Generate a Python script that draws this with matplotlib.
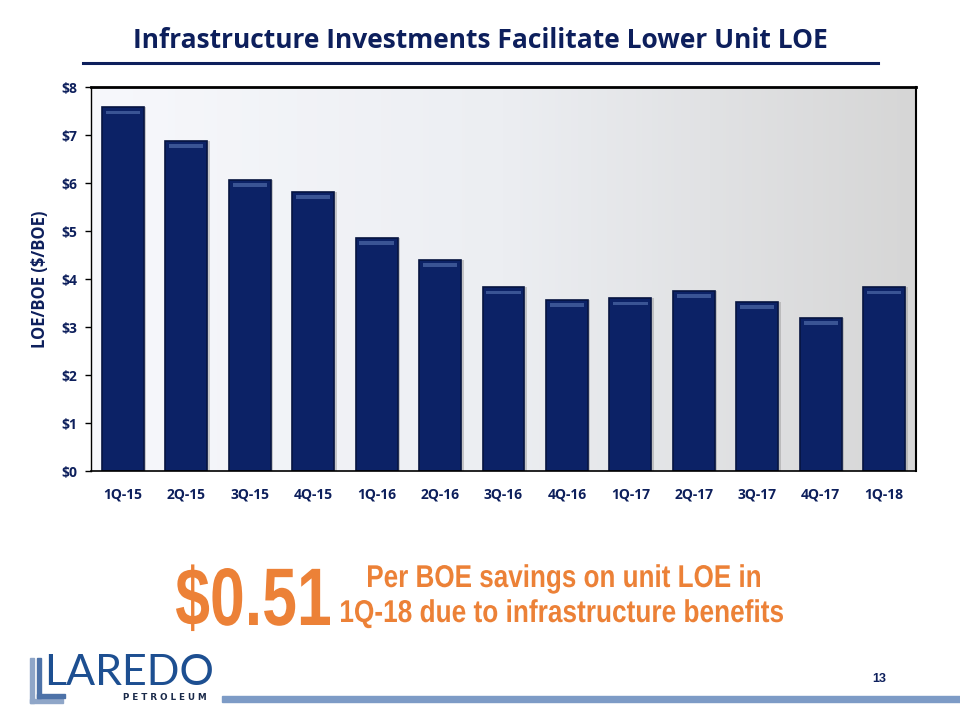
import numpy as np
import matplotlib
matplotlib.use("Agg")
import matplotlib.pyplot as plt
from matplotlib.patches import Rectangle, PathPatch
from matplotlib.textpath import TextPath
from matplotlib.font_manager import FontProperties
from matplotlib.transforms import Affine2D, IdentityTransform
from matplotlib.colors import LinearSegmentedColormap

quarters = ["1Q-15", "2Q-15", "3Q-15", "4Q-15", "1Q-16", "2Q-16", "3Q-16",
            "4Q-16", "1Q-17", "2Q-17", "3Q-17", "4Q-17", "1Q-18"]
loe = [7.58, 6.88, 6.06, 5.81, 4.86, 4.40, 3.83, 3.56, 3.60, 3.75, 3.52, 3.19, 3.83]
yticks = [0, 1, 2, 3, 4, 5, 6, 7, 8]
ytick_labels = ["$0", "$1", "$2", "$3", "$4", "$5", "$6", "$7", "$8"]

NAVY = "#0d1f5c"
BAR = "#0c2266"
ORANGE = "#ec8137"

W, H = 960, 720
fig = plt.figure(figsize=(9.6, 7.2), dpi=100)
fig.patch.set_facecolor("white")

ax = fig.add_axes([91/W, 1-471/H, 825/W, 384/H])
x = np.arange(len(quarters))
ax.set_xlim(-0.5, len(quarters)-0.5)
ax.set_ylim(0, 8)

grad = np.linspace(0, 1, 256).reshape(1, -1)
cmap = LinearSegmentedColormap.from_list("bg", ["#f7f8fc", "#eceef2", "#d6d6d6"])
ax.imshow(grad, extent=[-0.5, len(quarters)-0.5, 0, 8], aspect="auto",
          cmap=cmap, zorder=0)

ax.bar(x + 0.04, loe, width=0.66, color="#9a9a9a", alpha=0.5, zorder=1)
ax.bar(x, loe, width=0.66, color=BAR, edgecolor="#061440", linewidth=1.2, zorder=2)
ax.bar(x, [0.08]*len(loe), bottom=np.array(loe)-0.15, width=0.54,
       color="#3a5494", linewidth=0, zorder=3)

for s in ["top", "right", "bottom", "left"]:
    ax.spines[s].set_color("black")
ax.spines["top"].set_linewidth(2.0)
ax.spines["right"].set_linewidth(1.5)
ax.spines["bottom"].set_linewidth(1.2)
ax.spines["left"].set_linewidth(1.0)

ax.set_yticks(yticks)
ax.set_yticklabels(ytick_labels)
ax.set_xticks(x)
ax.set_xticklabels(quarters)
ax.tick_params(axis="x", length=0, pad=12)
ax.tick_params(axis="y", length=4, width=1, color="black", direction="out", pad=6)
for lab in ax.get_xticklabels() + ax.get_yticklabels():
    lab.set_fontfamily("Open Sans")
    lab.set_fontweight("bold")
    lab.set_fontsize(10)
    lab.set_color(NAVY)

ax.set_ylabel("LOE/BOE ($/BOE)", fontfamily="Open Sans", fontweight="bold",
              fontsize=12, color=NAVY, labelpad=9)

fig.text(0.5, 1-40/H, "Infrastructure Investments Facilitate Lower Unit LOE",
         ha="center", va="center", fontfamily="Open Sans", fontweight="bold",
         fontsize=19, color=NAVY)
fig.add_artist(plt.Line2D([83/W, 878/W], [1-63/H, 1-63/H],
                          color=NAVY, linewidth=2.2))

fp = FontProperties(family="Liberation Sans", weight="bold")


def narrow_text(s, x0, x1, y_base, cap_px, color):
    tp = TextPath((0, 0), s, size=100, prop=fp)
    ext = tp.get_extents()
    cap_ref = TextPath((0, 0), "0", size=100, prop=fp).get_extents().y1
    sy = cap_px / cap_ref
    sx = (x1 - x0) / (ext.x1 - ext.x0)
    tr = (Affine2D().translate(-ext.x0, 0).scale(sx, sy)
          .translate(x0, H - y_base))
    patch = PathPatch(tp, transform=tr + IdentityTransform(), color=color,
                      linewidth=0)
    fig.add_artist(patch)


narrow_text("$0.51", 176, 330, 625, 57, ORANGE)
narrow_text("Per BOE savings on unit LOE in", 368, 760, 587, 22, ORANGE)
narrow_text("1Q-18 due to infrastructure benefits", 341, 783, 622, 22, ORANGE)

LOGO = "#1d4f91"
fig.add_artist(Rectangle((30/W, 1-703/H), 4/W, 45/H, color="#8fa6c8",
                         transform=fig.transFigure))
fig.add_artist(Rectangle((30/W, 1-703/H), 33/W, 4/H, color="#8fa6c8",
                         transform=fig.transFigure))
fig.add_artist(Rectangle((37/W, 1-698/H), 4/W, 40/H, color="#4d72a8",
                         transform=fig.transFigure))
fig.add_artist(Rectangle((37/W, 1-698/H), 28/W, 4/H, color="#4d72a8",
                         transform=fig.transFigure))
fig.text(44/W, 1-673/H, "LAREDO", ha="left", va="center",
         fontfamily="Lato", fontsize=31, color=LOGO)
fig.text(207/W, 1-697/H, "P E T R O L E U M", ha="right", va="center",
         fontfamily="DejaVu Sans", fontweight="bold", fontsize=6.3,
         color="#1a2a4a")

fig.text(879/W, 1-679/H, "13", ha="center", va="center",
         family="Liberation Sans", fontweight="bold",
         fontsize=9, color=NAVY)

fig.add_artist(Rectangle((222/W, 1-702/H), 740/W, 6/H, color="#7d9bc6",
                         transform=fig.transFigure))

fig.savefig("out.png", dpi=100)
